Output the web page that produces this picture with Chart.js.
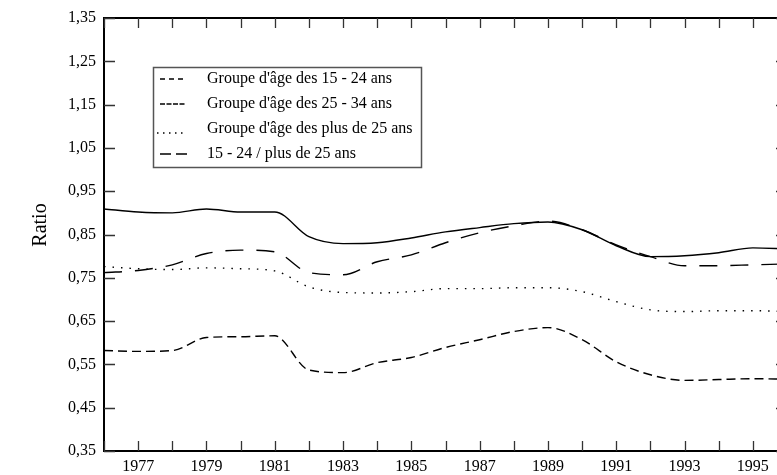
<!DOCTYPE html>
<html>
<head>
<meta charset="utf-8">
<script src="https://cdn.jsdelivr.net/npm/chart.js@4"></script>
<style>
  body { margin: 0; overflow: hidden; background: #fff; }
  #wrap { width: 800px; height: 475px; }
</style>
</head>
<body>
<div id="wrap"><canvas id="myChart"></canvas></div>
<script>
'use strict';

// ======= DATA =======
var years = [1976, 1977, 1978, 1979, 1980, 1981, 1982, 1983, 1984, 1985, 1986,
             1987, 1988, 1989, 1990, 1991, 1992, 1993, 1994, 1995, 1996];

var age1524 = [0.582, 0.580, 0.582, 0.612, 0.614, 0.616, 0.537, 0.531, 0.554, 0.566, 0.589,
               0.607, 0.626, 0.635, 0.607, 0.556, 0.526, 0.513, 0.515, 0.517, 0.516];
var age2534 = [0.909, 0.902, 0.900, 0.909, 0.902, 0.902, 0.845, 0.829, 0.831, 0.842, 0.856,
               0.866, 0.875, 0.879, 0.861, 0.824, 0.799, 0.801, 0.808, 0.819, 0.817];
var agePlus25 = [0.776, 0.771, 0.769, 0.773, 0.771, 0.766, 0.729, 0.716, 0.715, 0.718, 0.725,
                 0.725, 0.727, 0.727, 0.718, 0.695, 0.676, 0.672, 0.674, 0.674, 0.672];
var ratio = [0.762, 0.767, 0.780, 0.806, 0.814, 0.810, 0.762, 0.757, 0.787, 0.803, 0.831,
             0.854, 0.870, 0.881, 0.861, 0.826, 0.799, 0.778, 0.778, 0.780, 0.782];

var seriesNames = ["Groupe d'âge des 15 - 24 ans", "Groupe d'âge des 25 - 34 ans",
                   "Groupe d'âge des plus de 25 ans", "15 - 24 / plus de 25 ans"];

var yTicks = [0.35, 0.45, 0.55, 0.65, 0.75, 0.85, 0.95, 1.05, 1.15, 1.25, 1.35];
var xTicks = years;   // a tick every year, label on odd years

var FONT = '"Liberation Serif", "Times New Roman", serif';

function pts(arr) {
    return years.map(function (y, i) { return { x: y, y: arr[i] }; });
}

// dash styles: chart line / legend sample
var dashes = [[9, 5], [], [1.5, 7], [18, 13]];
var legendDashes = [[5, 4], [5, 1.5], [1.5, 4.5], [11, 5]];

// ======= PLUGINS =======
// frame + inward ticks + y title
var framePlugin = {
    id: 'frame',
    afterDatasetsDraw: function (chart) {
        var ctx = chart.ctx, a = chart.chartArea;
        var xs = chart.scales.x, ys = chart.scales.y;
        ctx.save();
        ctx.strokeStyle = '#000';
        ctx.lineWidth = 2;
        ctx.setLineDash([]);
        ctx.strokeRect(a.left, a.top, a.right - a.left, a.bottom - a.top);
        ctx.lineWidth = 1.3;
        ctx.strokeStyle = '#333';
        ctx.beginPath();
        xTicks.forEach(function (v) {
            var px = Math.round(xs.getPixelForValue(v)) + 0.5;
            ctx.moveTo(px, a.bottom); ctx.lineTo(px, a.bottom - 10);
            ctx.moveTo(px, a.top); ctx.lineTo(px, a.top + 10);
        });
        yTicks.forEach(function (v) {
            var py = Math.round(ys.getPixelForValue(v)) + 0.5;
            ctx.moveTo(a.left, py); ctx.lineTo(a.left + 11, py);
            ctx.moveTo(a.right, py); ctx.lineTo(a.right - 11, py);
        });
        ctx.stroke();

        // axis title
        ctx.translate(41, 225);
        ctx.rotate(-Math.PI / 2);
        ctx.font = '20px ' + FONT;
        ctx.fillStyle = '#000';
        ctx.textAlign = 'center';
        ctx.textBaseline = 'middle';
        ctx.fillText('Ratio', 0, 0);
        ctx.restore();
    }
};

// boxed legend inside the plot
var legendPlugin = {
    id: 'boxLegend',
    afterDraw: function (chart) {
        var ctx = chart.ctx;
        var bx = 153, by = 67, bw = 268, bh = 100;
        ctx.save();
        ctx.fillStyle = '#fff';
        ctx.fillRect(bx, by, bw, bh);
        ctx.strokeStyle = '#555';
        ctx.lineWidth = 1.5;
        ctx.strokeRect(bx + 0.5, by + 0.5, bw, bh);
        ctx.font = '16px ' + FONT;
        ctx.fillStyle = '#000';
        ctx.textBaseline = 'middle';
        seriesNames.forEach(function (name, i) {
            var y = by + 12 + i * 25;
            ctx.strokeStyle = '#000';
            ctx.lineWidth = 1.3;
            ctx.setLineDash(legendDashes[i]);
            ctx.beginPath();
            ctx.moveTo(i === 2 ? 157 : 160, y + (i === 2 ? 4 : 0));
            ctx.lineTo(i === 3 ? 190 : 185, y + (i === 2 ? 4 : 0));
            ctx.stroke();
            ctx.setLineDash([]);
            ctx.fillText(name, 207, y);
        });
        ctx.restore();
    }
};

// ======= CHART =======
var ctx = document.getElementById('myChart').getContext('2d');

var chart = new Chart(ctx, {
    type: 'line',
    data: {
        datasets: [age1524, age2534, agePlus25, ratio].map(function (arr, i) {
            return {
                label: seriesNames[i],
                data: pts(arr),
                borderColor: '#000',
                borderWidth: 1.4,
                borderDash: dashes[i],
                pointRadius: 0,
                fill: false,
                cubicInterpolationMode: 'monotone'
            };
        })
    },
    options: {
        responsive: true,
        maintainAspectRatio: false,
        animation: false,
        layout: { padding: { top: 18, right: 13, left: 0, bottom: 0 } },
        plugins: {
            legend: { display: false },
            tooltip: { enabled: false }
        },
        scales: {
            x: {
                type: 'linear',
                min: 1976,
                max: 1996,
                grid: { display: false, drawTicks: false },
                border: { display: false },
                afterBuildTicks: function (s) {
                    s.ticks = xTicks.map(function (v) { return { value: v }; });
                },
                afterFit: function (s) { s.height = 24; },
                ticks: {
                    autoSkip: false,
                    maxRotation: 0,
                    padding: 6,
                    color: '#000',
                    font: { family: FONT, size: 16 },
                    callback: function (v) { return v % 2 === 1 ? String(v) : ''; }
                }
            },
            y: {
                min: 0.35,
                max: 1.35,
                grid: { display: false, drawTicks: false },
                border: { display: false },
                afterBuildTicks: function (s) {
                    s.ticks = yTicks.map(function (v) { return { value: v }; });
                },
                afterFit: function (s) { s.width = 104; },
                ticks: {
                    padding: 8,
                    color: '#000',
                    font: { family: FONT, size: 16 },
                    callback: function (v) { return v.toFixed(2).replace('.', ','); }
                }
            }
        }
    },
    plugins: [framePlugin, legendPlugin]
});
</script>
</body>
</html>
